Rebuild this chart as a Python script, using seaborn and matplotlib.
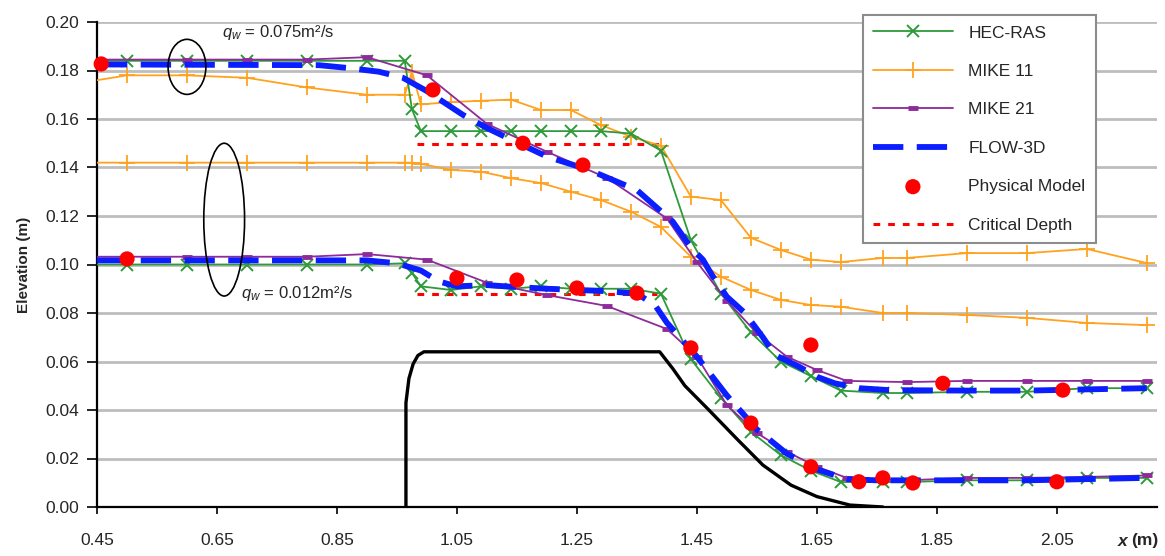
import numpy as np
import pandas as pd
import matplotlib
matplotlib.use("Agg")
import matplotlib.pyplot as plt
from matplotlib.patches import Ellipse
import seaborn as sns

# ---------------- data ----------------
hec_x = [0.45, 0.50, 0.60, 0.70, 0.80, 0.90, 0.963, 0.975, 0.99, 1.04, 1.09, 1.14, 1.19, 1.24,
         1.29, 1.34, 1.39, 1.44, 1.49, 1.54, 1.59, 1.64, 1.69, 1.76, 1.80, 1.90, 2.00, 2.10, 2.20]
hec_up = [0.184, 0.184, 0.184, 0.184, 0.184, 0.184, 0.184, 0.164, 0.155, 0.155, 0.155, 0.155, 0.155,
          0.155, 0.155, 0.154, 0.147, 0.110, 0.088, 0.072, 0.060, 0.054, 0.048, 0.047, 0.047,
          0.0475, 0.0475, 0.049, 0.049]
hec_lo = [0.100, 0.100, 0.100, 0.100, 0.100, 0.100, 0.1005, 0.0965, 0.091, 0.0895, 0.091, 0.090,
          0.091, 0.090, 0.090, 0.090, 0.088, 0.061, 0.045, 0.031, 0.0214, 0.015, 0.0103, 0.0103,
          0.0103, 0.011, 0.011, 0.012, 0.012]

m11_x = [0.45, 0.50, 0.60, 0.70, 0.80, 0.90, 0.963, 0.975, 0.99, 1.04, 1.09, 1.14, 1.19, 1.24,
         1.29, 1.34, 1.39, 1.44, 1.49, 1.54, 1.59, 1.64, 1.69, 1.76, 1.80, 1.90, 2.00, 2.10, 2.20]
m11_up = [0.176, 0.178, 0.178, 0.177, 0.173, 0.170, 0.170, 0.1795, 0.166, 0.167, 0.1675, 0.168,
          0.1637, 0.1637, 0.1575, 0.1527, 0.149, 0.128, 0.1266, 0.111, 0.106, 0.102, 0.101,
          0.1027, 0.1027, 0.1047, 0.1047, 0.1064, 0.1006]
m11_lo = [0.142, 0.142, 0.142, 0.142, 0.142, 0.142, 0.142, 0.142, 0.1415, 0.139, 0.1383, 0.1356,
          0.1336, 0.130, 0.1266, 0.1218, 0.1155, 0.1032, 0.095, 0.0895, 0.0854, 0.0833, 0.0826,
          0.080, 0.080, 0.0792, 0.078, 0.0759, 0.075]

m21_x = [0.45, 0.60, 0.70, 0.80, 0.90, 1.00, 1.10, 1.20, 1.30, 1.40, 1.45, 1.50, 1.55, 1.60,
         1.65, 1.70, 1.80, 1.90, 2.00, 2.10, 2.20]
m21_up = [0.1845, 0.1845, 0.1845, 0.1845, 0.1855, 0.178, 0.158, 0.1465, 0.1357, 0.119, 0.101,
          0.085, 0.0717, 0.062, 0.0565, 0.052, 0.0515, 0.052, 0.052, 0.052, 0.052]
m21_lo = [0.1032, 0.1032, 0.1032, 0.1032, 0.1043, 0.102, 0.0925, 0.0874, 0.0829, 0.0734, 0.062,
          0.042, 0.0305, 0.0228, 0.0166, 0.012, 0.011, 0.012, 0.012, 0.0124, 0.013]

f3d_x_up = [0.45, 0.82, 0.87, 0.92, 0.96, 1.00, 1.06, 1.10, 1.13, 1.20, 1.27, 1.35, 1.41, 1.44,
            1.46, 1.475, 1.50, 1.53, 1.56, 1.58, 1.62, 1.65, 1.68, 1.72, 1.77, 1.90, 2.00, 2.20]
f3d_up = [0.1825, 0.1822, 0.181, 0.1795, 0.177, 0.1715, 0.1617, 0.1563, 0.1527, 0.1445, 0.139,
          0.1307, 0.1176, 0.107, 0.102, 0.0957, 0.0867, 0.080, 0.070, 0.0627, 0.0579, 0.0537,
          0.051, 0.049, 0.0482, 0.048, 0.048, 0.049]
f3d_x_lo = [0.45, 0.90, 0.95, 0.99, 1.02, 1.05, 1.10, 1.15, 1.20, 1.25, 1.30, 1.35, 1.38, 1.40,
            1.45, 1.50, 1.55, 1.60, 1.65, 1.70, 1.75, 1.80, 2.00, 2.20]
f3d_lo = [0.1017, 0.1017, 0.1005, 0.0975, 0.093, 0.091, 0.0915, 0.0907, 0.090, 0.0895, 0.089,
          0.088, 0.0833, 0.076, 0.062, 0.046, 0.032, 0.022, 0.0155, 0.0115, 0.011, 0.011, 0.011,
          0.012]

phys_x_up = [0.457, 1.01, 1.16, 1.26, 1.64, 1.86, 2.06]
phys_up = [0.1827, 0.172, 0.150, 0.141, 0.0668, 0.051, 0.0482]
phys_x_lo = [0.50, 1.05, 1.15, 1.25, 1.35, 1.44, 1.54, 1.64, 1.72, 1.76, 1.81, 2.05]
phys_lo = [0.1023, 0.0944, 0.0936, 0.0903, 0.0882, 0.0656, 0.0346, 0.0166, 0.0104, 0.012,
           0.0099, 0.0104]

crit_x_up = [0.983, 1.39]
crit_up = [0.1497, 0.1497]
crit_x_lo = [0.983, 1.383]
crit_lo = [0.0878, 0.0878]

weir_x = [0.965, 0.965, 0.970, 0.977, 0.985, 0.995, 1.388, 1.41, 1.43, 1.47, 1.517, 1.56, 1.607,
          1.65, 1.705, 1.76]
weir_y = [0.0, 0.043, 0.053, 0.059, 0.0625, 0.064, 0.064, 0.057, 0.050, 0.040, 0.028, 0.0173,
          0.009, 0.0043, 0.0008, 0.0]

x_ticks = [0.45, 0.65, 0.85, 1.05, 1.25, 1.45, 1.65, 1.85, 2.05]
y_ticks = [0.00, 0.02, 0.04, 0.06, 0.08, 0.10, 0.12, 0.14, 0.16, 0.18, 0.20]

# ---------------- style ----------------
sns.set_style("white")
plt.rcParams["font.family"] = ["Liberation Sans", "DejaVu Sans"]
plt.rcParams["mathtext.fontset"] = "custom"
plt.rcParams["mathtext.rm"] = "Liberation Sans"
plt.rcParams["mathtext.it"] = "Liberation Sans:italic"

TXT = "#262626"
C_HEC = "#2e9a3a"
C_M11 = "#ffa21f"
C_M21 = "#8e2a9a"
C_F3D = "#0a1eff"
C_RED = "#ff0000"

fig = plt.figure(figsize=(11.65, 5.56), dpi=100)
ax = fig.add_axes([97 / 1165, 1 - 507 / 556, 1060 / 1165, 485 / 556])


def line(x, y, **kw):
    df = pd.DataFrame({"x": x, "y": y})
    sns.lineplot(data=df, x="x", y="y", ax=ax, sort=False, estimator=None, legend=False, **kw)
    return ax.lines[-1]


# critical depth
h_crit = line(crit_x_up, crit_up, color=C_RED, lw=2.2, linestyle=(0, (2.2, 2.6)), zorder=2)
line(crit_x_lo, crit_lo, color=C_RED, lw=2.2, linestyle=(0, (2.2, 2.6)), zorder=2)

# weir
line(weir_x, weir_y, color="black", lw=2.4, zorder=2)

# MIKE 11
mk = dict(color=C_M11, lw=1.3, marker="+", markersize=11, mew=1.3, mec=C_M11, zorder=3)
h_m11 = line(m11_x, m11_up, markevery=list(range(1, len(m11_x))), **mk)
line(m11_x, m11_lo, markevery=list(range(1, len(m11_x))), **mk)

# HEC-RAS
hk = dict(color=C_HEC, lw=1.3, marker="x", markersize=8, mew=1.4, mec=C_HEC, zorder=4)
h_hec = line(hec_x, hec_up, markevery=list(range(1, len(hec_x))), **hk)
line(hec_x, hec_lo, markevery=list(range(1, len(hec_x))), **hk)

# MIKE 21
pk = dict(color=C_M21, lw=1.3, marker="_", markersize=7, mew=3.5, mec=C_M21, zorder=5)
h_m21 = line(m21_x, m21_up, markevery=list(range(1, len(m21_x))), **pk)
line(m21_x, m21_lo, markevery=list(range(1, len(m21_x))), **pk)

# FLOW-3D
fk = dict(color=C_F3D, lw=4.2, dashes=(5.2, 2.3), zorder=6)
h_f3d = line(f3d_x_up, f3d_up, **fk)
line(f3d_x_lo, f3d_lo, **fk)

# Physical model
sns.scatterplot(x=phys_x_up, y=phys_up, ax=ax, color=C_RED, s=120, edgecolor="none",
                zorder=7, clip_on=False, legend=False)
h_phys = ax.collections[-1]
sns.scatterplot(x=phys_x_lo, y=phys_lo, ax=ax, color=C_RED, s=120, edgecolor="none",
                zorder=7, legend=False)

# ---------------- axes ----------------
ax.set_xlim(0.45, 2.217)
ax.set_ylim(0.0, 0.20)
ax.set_xticks(x_ticks)
ax.set_yticks(y_ticks)
ax.set_xticklabels([f"{v:.2f}" for v in x_ticks])
ax.set_yticklabels([f"{v:.2f}" for v in y_ticks])
ax.yaxis.grid(True, color="#bdbdbd", lw=2.0, zorder=0)
ax.xaxis.grid(False)
ax.set_axisbelow(True)
for s in ["top", "right"]:
    ax.spines[s].set_visible(False)
for s in ["left", "bottom"]:
    ax.spines[s].set_color("black")
    ax.spines[s].set_linewidth(1.6)
ax.tick_params(axis="y", direction="out", length=7, width=1.2, color="black",
               labelsize=12.5, labelcolor=TXT, pad=6, left=True)
ax.tick_params(axis="x", direction="out", length=5, width=1.2, color="black",
               labelsize=12.5, labelcolor=TXT, pad=14, bottom=True)
ax.set_xlabel("")
ax.set_ylabel("Elevation (m)", fontsize=11, fontweight="bold", color=TXT, labelpad=10)

fig.text(1123 / 1165, 1 - 541 / 556, "x", fontsize=12.5, fontweight="bold", style="italic",
         color=TXT, ha="center", va="center")
fig.text(1145 / 1165, 1 - 541 / 556, "(m)", fontsize=12.5, fontweight="bold",
         color=TXT, ha="center", va="center")

# annotations
ax.text(0.658, 0.1955, r"$q_{w}$ = 0.075m²/s", fontsize=12, color=TXT, va="center", ha="left")
ax.text(0.690, 0.0882, r"$q_{w}$ = 0.012m²/s", fontsize=12, color=TXT, va="center", ha="left")
ax.add_patch(Ellipse((0.60, 0.1815), 0.063, 0.0227, fill=False, ec="black", lw=1.2, zorder=8))
ax.add_patch(Ellipse((0.662, 0.1185), 0.068, 0.063, fill=False, ec="black", lw=1.2, zorder=8))

# legend
handles = [h_hec, h_m11, h_m21, h_f3d, h_phys, h_crit]
labels = ["HEC-RAS", "MIKE 11", "MIKE 21", "FLOW-3D", "Physical Model", "Critical Depth"]
leg = ax.legend(handles, labels, loc="upper right",
                bbox_to_anchor=(1096 / 1165, 1 - 15 / 556), bbox_transform=fig.transFigure,
                borderaxespad=0.0,
                frameon=True, fancybox=False, framealpha=1, edgecolor="#8c8c8c",
                fontsize=12.5, handlelength=4.6, labelspacing=1.34, borderpad=0.6,
                handletextpad=0.9, markerscale=1.0)
leg.get_frame().set_linewidth(1.5)
for t in leg.get_texts():
    t.set_color(TXT)

fig.savefig("out.png", dpi=100)
